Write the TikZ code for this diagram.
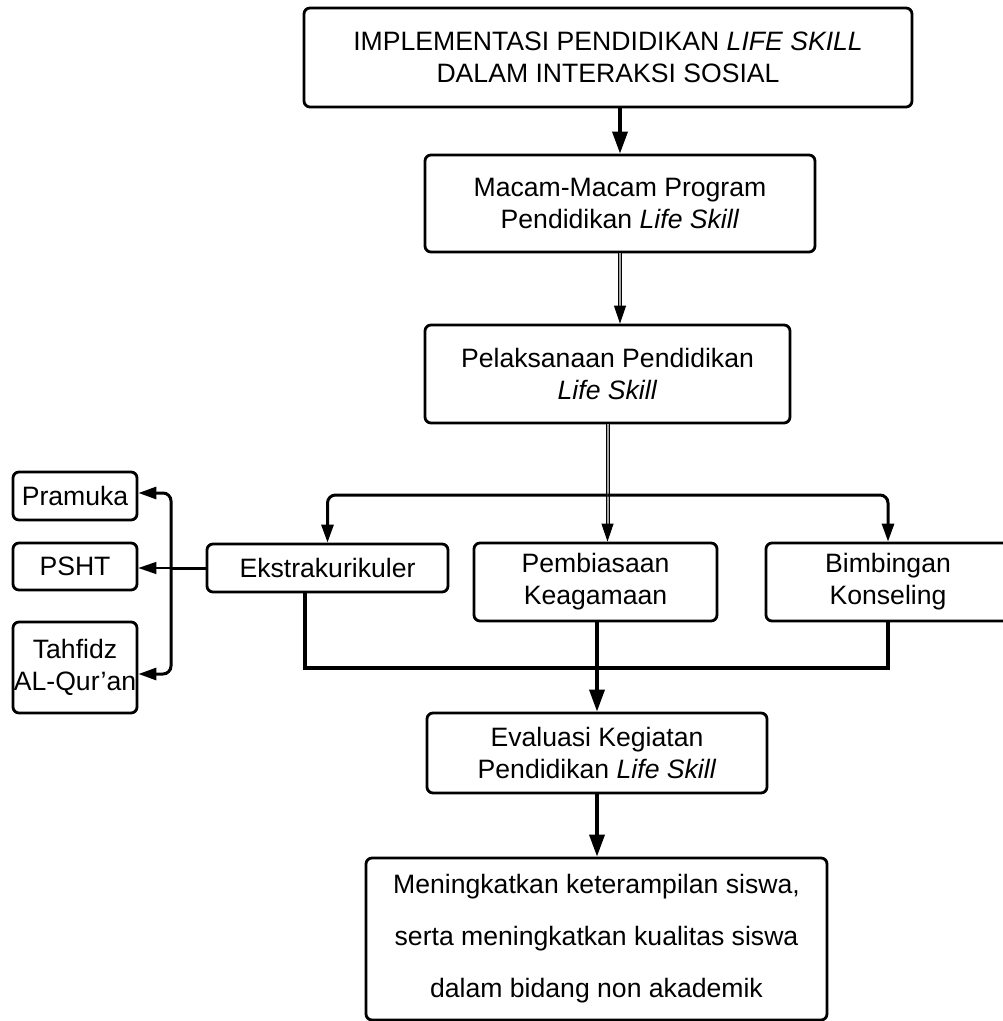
\documentclass[tikz,border=0pt]{standalone}
\usepackage{fontspec}
\setmainfont{Liberation Sans}
\usetikzlibrary{arrows.meta}
\begin{document}
\begin{tikzpicture}[x=0.5pt,y=-0.5pt,
  box/.style={draw,line width=1.4pt,rounded corners=3pt,align=center,inner sep=0pt,
    font=\fontsize{13.3}{16}\selectfont},
  conn/.style={line width=1.5pt},
  arr/.style={conn,-{Triangle[length=9pt,width=6pt]}},
  bigarr/.style={line width=1.8pt,-{Triangle[length=11pt,width=7.5pt]}},
  grayarr/.style={line width=0.5pt,double=gray!70,double distance=1pt,-{Triangle[length=9pt,width=6pt]}},
  thinarr/.style={line width=0.8pt,-{Triangle[length=9pt,width=6pt]}}]
\useasboundingbox (0,0) rectangle (1002,1021);
\node[box,minimum width=304pt,minimum height=49.5pt] (top) at (608,57.5)
  {IMPLEMENTASI PENDIDIKAN \textit{LIFE SKILL}\\DALAM INTERAKSI SOSIAL};
\node[box,minimum width=195pt,minimum height=48.5pt] (b2) at (620,203.5)
  {Macam-Macam Program\\Pendidikan \textit{Life Skill}};
\node[box,minimum width=182.5pt,minimum height=49pt] (b3) at (607.5,374)
  {Pelaksanaan Pendidikan\\\textit{Life Skill}};
\node[box,minimum width=120.5pt,minimum height=24pt] (ekstra) at (327.5,568) {Ekstrakurikuler};
\node[box,minimum width=121.5pt,minimum height=39pt] (pemb) at (595.5,582) {Pembiasaan\\Keagamaan};
\node[box,minimum width=122pt,minimum height=39pt] (bimb) at (888,582) {Bimbingan\\Konseling};
\node[box,minimum width=170pt,minimum height=40pt] (eval) at (597,753)
  {Evaluasi Kegiatan\\Pendidikan \textit{Life Skill}};
\node[box,minimum width=230.5pt,minimum height=81pt,font=\fontsize{13.3}{26}\selectfont] (final) at (596.5,939)
  {Meningkatkan keterampilan siswa,\\serta meningkatkan kualitas siswa\\dalam bidang non akademik};
\node[box,minimum width=62pt,minimum height=24pt] (pramuka) at (75,496) {Pramuka};
\node[box,minimum width=62pt,minimum height=23.5pt] (psht) at (75,566.5) {PSHT};
\node[box,minimum width=62pt,minimum height=45.5pt] (tahfidz) at (75,667.5) {Tahfidz\\AL-Qur'an};
% main flow
\draw[bigarr] (b2.north |- top.south) -- (b2.north);
\draw[grayarr] (b2.south) -- (b2.south |- b3.north);
\coordinate (br) at (607.5,495);
\draw[grayarr] (b3.south) -- (b3.south |- pemb.north);
\draw[arr,rounded corners=4pt] (br) -| (ekstra.north);
\draw[arr,rounded corners=4pt] (br) -| (bimb.north);
\coordinate (jn) at (597,668);
\draw[conn,line width=1.8pt] ([xshift=-11.25pt]ekstra.south) |- (jn) -| (bimb.south);
\draw[bigarr] (eval.north |- pemb.south) -- (eval.north);
\draw[bigarr] (eval.south) -- (eval.south |- final.north);
% left branch
\coordinate (lj) at (171,568);
\draw[conn] (ekstra.west) -- (lj);
\draw[arr,rounded corners=4pt] (lj) |- ([yshift=1.5pt]pramuka.east);
\draw[arr,rounded corners=4pt] (lj) |- ([yshift=-3.25pt]tahfidz.east);
\draw[thinarr] (lj) -- (lj -| psht.east);
\end{tikzpicture}
\end{document}
